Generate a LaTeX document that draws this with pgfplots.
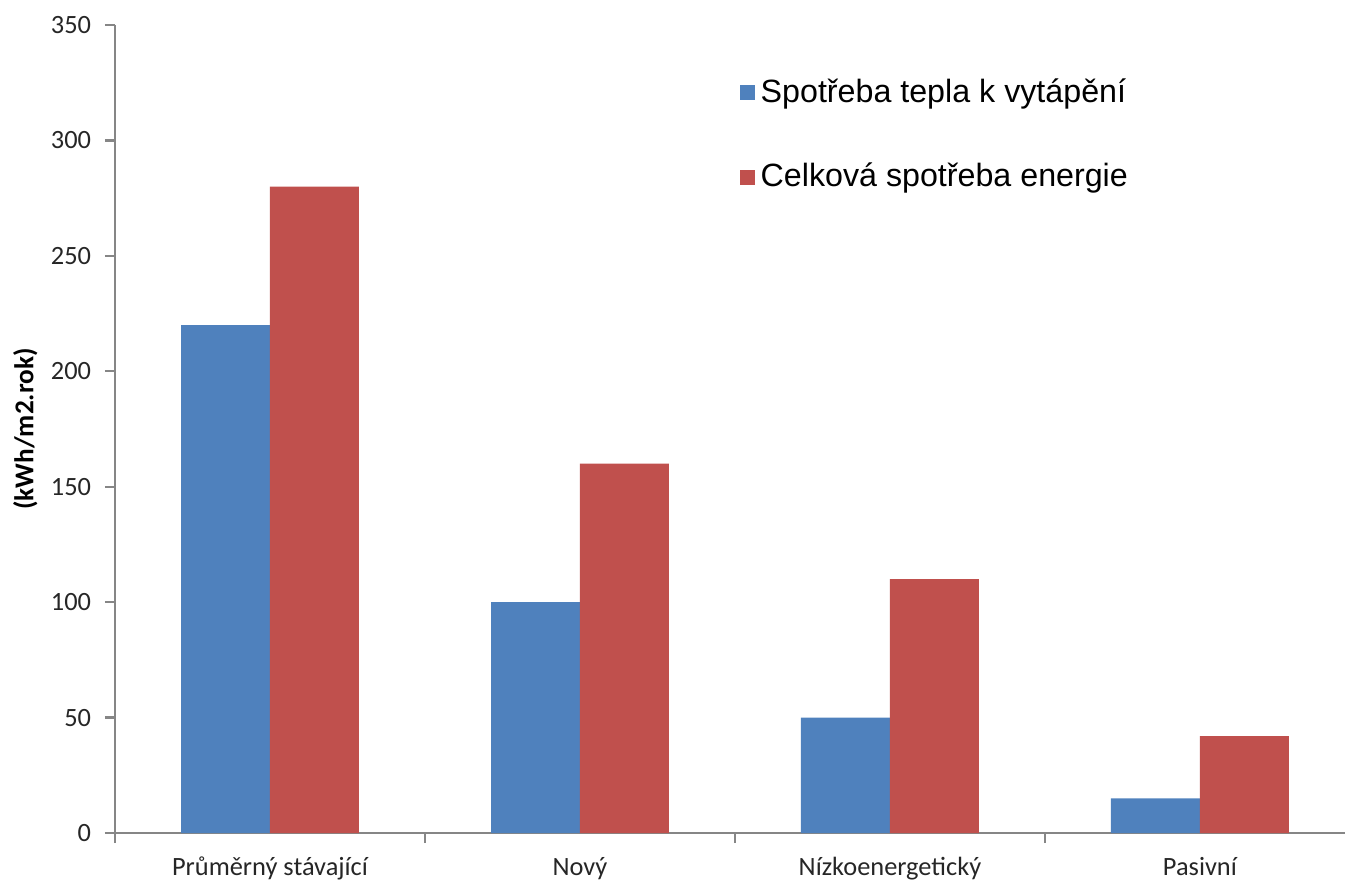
\documentclass[border=0pt]{standalone}
\usepackage{fontspec}
\setmainfont{Carlito}
\newfontfamily\arial{Liberation Sans}
\usepackage{pgfplots}
\pgfplotsset{compat=1.18}

\definecolor{xlblue}{HTML}{4F81BD}
\definecolor{xlred}{HTML}{C0504D}
\definecolor{axgray}{HTML}{868686}

\begin{document}
\begin{tikzpicture}
\begin{axis}[
    name=ax,
    scale only axis,
    width=442.8pt, height=290.9pt,
    ybar=0pt, bar width=0.287,
    xmin=-0.5, xmax=3.468,
    ymin=0, ymax=350,
    ytick={0,50,...,350},
    xtick={0,1,2,3},
    xticklabels={Průměrný stávající, Nový, Nízkoenergetický, Pasivní},
    extra x ticks={-0.5,0.5,1.5,2.5,3.5},
    extra x tick labels={},
    extra x tick style={xtick style={draw=axgray, line width=0.8pt}},
    axis x line=bottom, axis y line=left,
    axis line style={-, axgray, line width=0.8pt},
    ytick style={axgray, line width=0.8pt},
    xtick style={draw=none},
    tick align=outside,
    major tick length=3.6pt,
    /pgf/number format/assume math mode=true,
    ticklabel style={font=\fontsize{9.5}{11}\selectfont, text=black!85},
    yticklabel style={xshift=-1.5pt},
    xticklabel style={yshift=-1.5pt},
    ylabel={(kWh/m2.rok)},
    ylabel style={font=\fontsize{9.8}{11}\selectfont\bfseries, yshift=-2pt},
    legend style={draw=none, fill=none, at={(0.501,0.948)}, anchor=north west,
        font=\arial\fontsize{11.6}{13}\selectfont, row sep=16.4pt},
    legend cell align=left,
    legend image code/.code={\fill[#1] (0pt,-2.7pt) rectangle (5.4pt,2.7pt);},
]
\addplot[fill=xlblue, draw=none] coordinates {(0,220) (1,100) (2,50) (3,15)};
\addplot[fill=xlred, draw=none] coordinates {(0,280) (1,160) (2,110) (3,42)};
\legend{Spotřeba tepla k vytápění, Celková spotřeba energie}
\end{axis}
\pgfresetboundingbox
\path ([xshift=-41.4pt,yshift=-17.3pt]ax.south west) rectangle ([yshift=9pt]ax.north east);
\end{tikzpicture}
\end{document}
